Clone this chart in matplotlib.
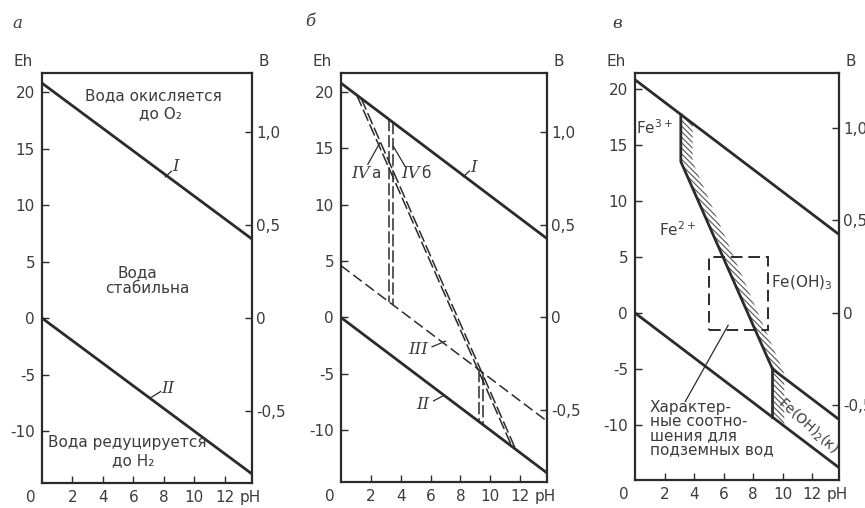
import matplotlib
matplotlib.use("Agg")
import matplotlib.pyplot as plt
from matplotlib.patches import Polygon, Rectangle
import matplotlib.transforms as mtransforms

plt.rcParams['font.family'] = ['DejaVu Sans']
plt.rcParams['hatch.linewidth'] = 0.8
plt.rcParams['hatch.color'] = '#555555'

INK = '#2b2b2b'
TXT = '#3c3c3c'

# ---------------- data ----------------
ph_ends = [0, 13.8]
line_I = [20.8, 7.0]        # water oxidised to O2
line_II = [0.0, -13.8]      # water reduced to H2
line_III = [4.6, -9.2]      # panel b dashed line III

# panel b: IV a / IV b diagonals (pH, Eh)
IVa_ph = [1.05, 11.45]
IVa_eh = [19.75, -11.45]
IVb_ph = [1.35, 11.7]
IVb_eh = [19.45, -11.7]
# vertical dashed segments (pH, Eh top, Eh bottom)
IV_vert_ph = [3.2, 3.45, 9.25, 9.5]
IV_vert_top = [17.6, 17.35, -4.65, -4.9]
IV_vert_bot = [1.4, 1.15, -9.25, -9.5]

# panel c: iron boundaries
fe_ph = [3.1, 3.1, 9.3, 13.8]
fe_eh = [17.7, 13.5, -5.0, -9.5]
fe2_vert_ph = [9.3, 9.3]
fe2_vert_eh = [-5.0, -9.3]
hatch_ph = [3.1, 3.1, 9.3, 9.3, 10.1, 10.1, 3.9, 3.9]
hatch_eh = [17.7, 13.5, -5.0, -9.3, -10.1, -5.4, 13.5, 16.9]
rect_ph = [5.0, 9.0]
rect_eh = [-1.5, 5.0]

eh_ticks = [20, 15, 10, 5, 0, -5, -10]
v_ticks = [1.0, 0.5, 0.0, -0.5]
v_labels = ['1,0', '0,5', '0', '-0,5']
ph_ticks = [2, 4, 6, 8, 10, 12]

W, H = 865, 508
fig = plt.figure(figsize=(W / 100, H / 100), dpi=100)
fig.patch.set_facecolor('white')

boxes = [
    [42 / W, 1 - 483 / H, 210 / W, 410 / H],
    [341 / W, 1 - 482 / H, 206 / W, 409 / H],
    [635 / W, 1 - 480 / H, 204 / W, 407 / H],
]
ylims = [(-14.6, 21.7), (-14.6, 21.7), (-14.9, 21.4)]
letters = ['а', 'б', 'в']
letter_pos = [(17, 23), (310, 21), (617, 23)]
FS = 11


def setup(ax, ylim, letter, lpos):
    ax.set_xlim(0, 13.8)
    ax.set_ylim(*ylim)
    for s in ax.spines.values():
        s.set_color(INK)
        s.set_linewidth(1.6)
    ax.set_yticks(eh_ticks)
    ax.set_yticklabels([str(t) for t in eh_ticks])
    ax.set_xticks(ph_ticks)
    ax.set_xticklabels([str(t) for t in ph_ticks])
    ax.tick_params(direction='in', length=5, width=1.0, colors=INK,
                   labelcolor=TXT, labelsize=FS, pad=5)
    sec = ax.secondary_yaxis('right', functions=(lambda x: x / 16.5, lambda x: x * 16.5))
    sec.set_yticks(v_ticks)
    sec.set_yticklabels(v_labels)
    sec.tick_params(direction='in', length=5, width=1.0, colors=INK,
                    labelcolor=TXT, labelsize=FS, pad=3)
    sec.spines['right'].set_visible(False)
    tr = mtransforms.blended_transform_factory(ax.transData, ax.transAxes)
    tro = mtransforms.offset_copy(tr, fig=fig, y=-5, units='points')
    ax.text(-0.75, 0, '0', transform=tro, ha='center', va='top', fontsize=FS, color=TXT)
    ax.text(13.7, 0, 'pH', transform=tro, ha='center', va='top', fontsize=FS, color=TXT)
    ax.text(-0.045, 1.01, 'Eh', transform=ax.transAxes, ha='right', va='bottom', fontsize=FS, color=TXT)
    ax.text(1.03, 1.01, 'B', transform=ax.transAxes, ha='left', va='bottom', fontsize=FS, color=TXT)
    fig.text(lpos[0] / W, 1 - lpos[1] / H, letter, ha='center', va='center',
             fontsize=12, color=TXT, style='italic', family='DejaVu Serif')
    ax.plot(ph_ends, line_I, color=INK, lw=2.0)
    ax.plot(ph_ends, line_II, color=INK, lw=2.0)


def roman(ax, x, y, s, x0, y0, x1, y1, ha='center'):
    ax.text(x, y, s, fontsize=12, color=TXT, style='italic', family='DejaVu Serif',
            ha=ha, va='center')
    ax.plot([x0, x1], [y0, y1], color=INK, lw=0.9)


axes = []
for b, yl, let, lp in zip(boxes, ylims, letters, letter_pos):
    ax = fig.add_axes(b)
    setup(ax, yl, let, lp)
    axes.append(ax)

# ---------------- panel a ----------------
a = axes[0]
a.text(7.3, 19.7, 'Вода окисляется', ha='center', va='center', fontsize=FS, color=TXT)
a.text(7.8, 18.1, 'до O₂', ha='center', va='center', fontsize=FS, color=TXT)
roman(a, 8.75, 13.4, 'I', 8.1, 12.5, 8.5, 13.0)
a.text(6.3, 4.0, 'Вода', ha='center', va='center', fontsize=FS, color=TXT)
a.text(6.9, 2.6, 'стабильна', ha='center', va='center', fontsize=FS, color=TXT)
roman(a, 8.3, -6.2, 'II', 7.2, -7.0, 7.8, -6.5)
a.text(5.6, -11.0, 'Вода редуцируется', ha='center', va='center', fontsize=FS, color=TXT)
a.text(6.0, -12.6, 'до H₂', ha='center', va='center', fontsize=FS, color=TXT)

# ---------------- panel b ----------------
b = axes[1]
b.plot(ph_ends, line_III, color=INK, lw=1.1, dashes=(7, 3))
b.plot(IVa_ph, IVa_eh, color=INK, lw=1.1, dashes=(8, 2.5))
b.plot(IVb_ph, IVb_eh, color=INK, lw=1.1, dashes=(8, 2.5))
for x, t, bt in zip(IV_vert_ph, IV_vert_top, IV_vert_bot):
    b.plot([x, x], [t, bt], color=INK, lw=1.1, dashes=(8, 2.5))
roman(b, 8.9, 13.3, 'I', 8.2, 12.5, 8.6, 13.0)
b.text(1.95, 12.8, 'IV', fontsize=12, color=TXT, style='italic', family='DejaVu Serif',
       ha='right', va='center')
b.text(2.0, 12.8, 'а', fontsize=FS, color=TXT, ha='left', va='center')
b.plot([1.8, 2.6], [13.6, 15.5], color=INK, lw=0.9)
b.text(5.3, 12.8, 'IV', fontsize=12, color=TXT, style='italic', family='DejaVu Serif',
       ha='right', va='center')
b.text(5.35, 12.8, 'б', fontsize=FS, color=TXT, ha='left', va='center')
b.plot([4.3, 3.5], [13.4, 15.2], color=INK, lw=0.9)
roman(b, 5.2, -2.8, 'III', 6.1, -2.6, 7.0, -2.1)
roman(b, 5.5, -7.7, 'II', 6.2, -7.4, 6.85, -6.95)

# ---------------- panel c ----------------
c = axes[2]
c.add_patch(Polygon(list(zip(hatch_ph, hatch_eh)), closed=True, fill=False,
                    hatch='\\\\\\\\\\\\', edgecolor='#555555', lw=0))
c.plot(fe_ph, fe_eh, color=INK, lw=2.0)
c.plot(fe2_vert_ph, fe2_vert_eh, color=INK, lw=2.0)
c.add_patch(Rectangle((rect_ph[0], rect_eh[0]), rect_ph[1] - rect_ph[0],
                      rect_eh[1] - rect_eh[0], fill=False, edgecolor=INK,
                      lw=1.4, linestyle=(0, (6, 3))))
c.text(1.35, 16.5, 'Fe$^{3+}$', ha='center', va='center', fontsize=FS, color=TXT)
c.text(2.85, 7.4, 'Fe$^{2+}$', ha='center', va='center', fontsize=FS, color=TXT)
c.text(9.2, 2.7, 'Fe(OH)$_3$', ha='left', va='center', fontsize=FS, color=TXT)
c.text(11.7, -10.1, 'Fe(OH)$_2$(к)', ha='center', va='center', fontsize=10,
       color=TXT, rotation=-42)
for i, s in enumerate(['Характер-', 'ные соотно-', 'шения для', 'подземных вод']):
    c.text(1.0, -8.4 - 1.28 * i, s, ha='left', va='center', fontsize=FS, color=TXT)
c.plot([3.4, 6.3], [-7.9, -1.1], color=INK, lw=0.9)

fig.savefig('out.png', dpi=100, facecolor='white')
